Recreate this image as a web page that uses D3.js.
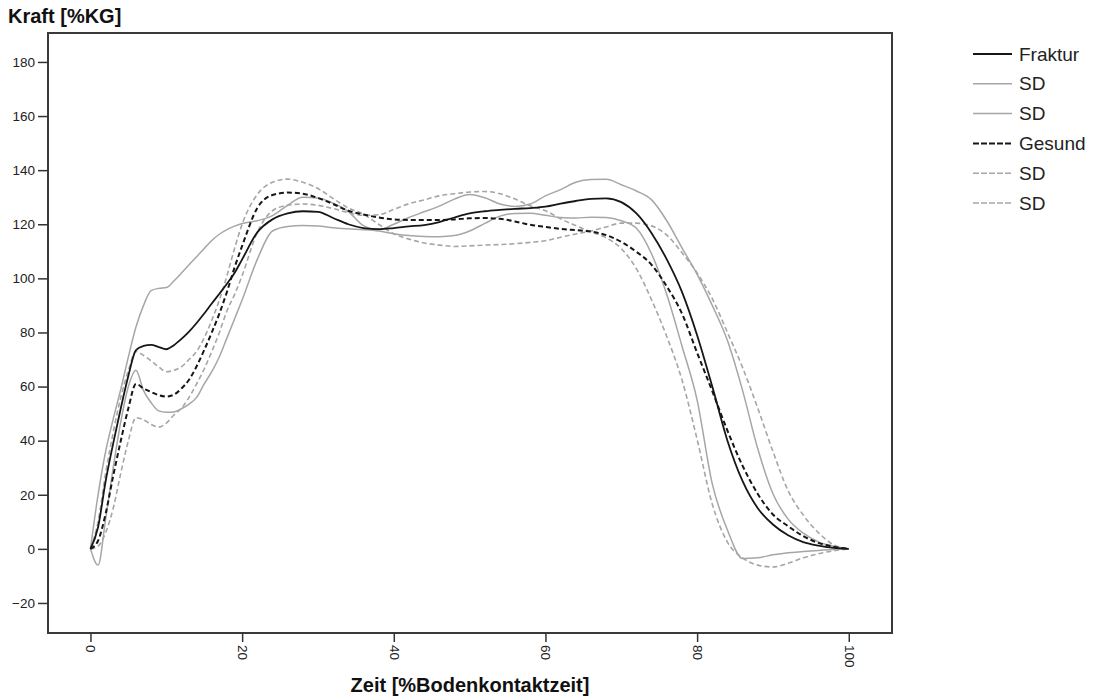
<!DOCTYPE html>
<html>
<head>
<meta charset="utf-8">
<script src="https://cdn.jsdelivr.net/npm/d3@7"></script>
<style>
  html, body { margin: 0; padding: 0; background: #fff; }
  svg { display: block; font-family: "Liberation Sans", Arial, sans-serif; }
</style>
</head>
<body>
<svg id="chart" width="1096" height="698"></svg>
<script>
// Zeitachse in % der Bodenkontaktzeit (1er-Schritte bis 20, danach 2er-Schritte)
const zeit = [0,1,2,3,4,5,6,7,8,9,10,11,12,13,14,15,16,17,18,19,20,
  22,24,26,28,30,32,34,36,38,40,42,44,46,48,50,52,54,56,58,60,
  62,64,66,68,70,72,74,76,78,80,82,84,86,88,90,92,94,96,98,100];

// Kraft [%KG] – Mittelwert Fraktur
const fraktur = [0,8,25,39,52,64,73.5,75,75.4,74.6,73.8,75.3,77.6,80.3,83.5,87,90.7,94.3,98,102,107,
  117,121.8,124,124.8,124.6,122.3,120,118.6,118.2,118.6,
  119.2,119.7,120.8,122.5,124,124.8,125.3,125.7,126,126.5,
  127.6,128.6,129.4,129.6,128.2,124,116.7,107,95,79,
  60,40,25,15,9,5,2.5,1.2,0.4,0];

// Fraktur ± SD
const frakturSdA = [0,20,36,48,59,71,82,90,95.5,96.3,96.6,99,102,105,108,111,114,116.3,118,119.3,120.3,
  121.3,123.2,127,130,129.7,127.8,124.7,119.5,118,120,
  122.5,124.6,126.7,129.3,131,129.8,127.5,126.6,127.5,130.5,
  132.8,135.5,136.5,136.6,134.6,132.3,129,121.3,111.3,101.5,
  90,77,58.5,37,20.4,11,5.8,2.6,1,0];
const frakturSdB = [0,-6,11,30,47,60,66,58.5,54,51,50.5,50.6,51.8,53.5,56,61,65.5,71,78,85,92,
  107,117.5,119.2,119.5,119.4,118.7,118.3,118,117.5,116.5,
  115.8,115.5,115.4,115.8,117.5,120.3,123,124,124.1,123.3,
  122.5,122.3,122.6,122.5,121.3,118.5,109,94,75,55,
  24,7,-3.6,-3.3,-2.2,-1.4,-1,-0.6,-0.2,0];

// Kraft [%KG] – Mittelwert Gesund
const gesund = [0,3,13,27,40,52,61,59.3,58,56.8,56.3,57,59.3,62.5,67.5,73.5,80,87,95,104,112,
  126,130.8,131.7,131.3,129.7,127.5,125,123.6,122.5,121.8,
  121.6,121.6,121.6,121.8,122.2,122.3,122,121,119.8,119,
  118.3,117.8,117.3,116,113.5,109.8,105,97,87,72.5,
  58.3,43.7,30.7,20.3,12.7,8.4,4.7,2.2,0.8,0];

// Gesund ± SD
const gesundSdA = [0,10,28,43,56,66,73,71.5,69.5,67.3,65.5,66,67.3,70,73,78,84.5,92,101,111,120,
  131,135.5,136.7,135.5,133.2,129.5,126,123.7,120,116.5,
  114.5,113.1,112.3,111.8,112,112.3,112.5,112.8,113.3,113.9,
  115.2,116.4,117.5,119,120.4,120.4,119.4,116,109.5,102,
  92.5,80,67,52,36,21.5,12.5,6,1.5,0];
const gesundSdB = [0,1,6,15,28,40,48.5,47.7,46,45,46.5,49.5,52,56,61,66.5,73,80,88,94,101,
  117,125,127,127.5,127,125.8,124.3,123.3,123.5,125.5,
  127.6,129,130.5,131.3,131.9,132.1,131.3,129.3,126.8,125,
  122,119.5,117.2,115,111,103.5,92,78.5,62.5,40.5,
  16.5,2.5,-3.3,-6,-6.7,-5.3,-3.3,-1.8,-0.7,0];

const yTicks = [-20,0,20,40,60,80,100,120,140,160,180];
const xTicks = [0,20,40,60,80,100];
const legendLabels = ["Fraktur","SD","SD","Gesund","SD","SD"];

const GRAY = "#a6a6a6", DARK = "#161616";
const styles = [
  {color: DARK, width: 1.8, dash: null},
  {color: GRAY, width: 1.5, dash: null},
  {color: GRAY, width: 1.5, dash: null},
  {color: DARK, width: 2,   dash: "5,3"},
  {color: GRAY, width: 1.6, dash: "5,3"},
  {color: GRAY, width: 1.6, dash: "5,3"}
];
const seriesValues = [fraktur, frakturSdA, frakturSdB, gesund, gesundSdA, gesundSdB];
const series = seriesValues.map((vals, i) => ({
  label: legendLabels[i],
  style: styles[i],
  points: zeit.map((t, j) => ({t, v: vals[j]}))
}));

const svg = d3.select("#chart");
const plot = {left: 48, top: 33, right: 892, bottom: 633};

const x = d3.scaleLinear().domain([-5.6, 105.7]).range([plot.left, plot.right]);
const y = d3.scaleLinear().domain([-31.1, 190.7]).range([plot.bottom, plot.top]);

// Kurven: graue SD-Linien zuerst, schwarze Mittelwerte darüber
const line = d3.line().x(d => x(d.t)).y(d => y(d.v)).curve(d3.curveMonotoneX);
const drawOrder = [1, 2, 4, 5, 3, 0];
svg.append("g").selectAll("path")
  .data(drawOrder.map(i => series[i]))
  .join("path")
  .attr("d", d => line(d.points))
  .attr("fill", "none")
  .attr("stroke", d => d.style.color)
  .attr("stroke-width", d => d.style.width)
  .attr("stroke-dasharray", d => d.style.dash)
  .attr("stroke-linejoin", "round");

// Rahmen des Diagrammbereichs
svg.append("rect")
  .attr("x", plot.left).attr("y", plot.top)
  .attr("width", plot.right - plot.left).attr("height", plot.bottom - plot.top)
  .attr("fill", "none").attr("stroke", "#3a3a3a").attr("stroke-width", 2);

// Y-Achse
const yAxis = svg.append("g")
  .attr("transform", `translate(${plot.left},0)`)
  .call(d3.axisLeft(y).tickValues(yTicks).tickSize(10).tickPadding(3).tickFormat(d3.format("d")));
yAxis.select(".domain").remove();
yAxis.selectAll(".tick line").attr("stroke", "#333").attr("stroke-width", 1.5);
yAxis.selectAll(".tick text").attr("fill", "#222").style("font-size", "13.5px")
  .style("font-family", "'Liberation Sans', Arial, sans-serif");

// X-Achse mit gedrehten Beschriftungen
const xAxis = svg.append("g")
  .attr("transform", `translate(0,${plot.bottom})`)
  .call(d3.axisBottom(x).tickValues(xTicks).tickSize(9).tickFormat(d3.format("d")));
xAxis.select(".domain").remove();
xAxis.selectAll(".tick line").attr("stroke", "#333").attr("stroke-width", 1.5);
xAxis.selectAll(".tick text")
  .attr("fill", "#222")
  .style("font-size", "13.5px")
  .style("font-family", "'Liberation Sans', Arial, sans-serif")
  .attr("transform", "rotate(90)")
  .attr("x", 12).attr("y", 0).attr("dy", "0.35em")
  .attr("text-anchor", "start");

// Achsentitel
svg.append("text")
  .attr("x", 8).attr("y", 23)
  .attr("font-weight", "bold").attr("font-size", 20).attr("fill", "#111")
  .text("Kraft [%KG]");
svg.append("text")
  .attr("x", 470).attr("y", 692)
  .attr("text-anchor", "middle")
  .attr("font-weight", "bold").attr("font-size", 20).attr("fill", "#111")
  .text("Zeit [%Bodenkontaktzeit]");

// Legende
const legend = svg.append("g").selectAll("g")
  .data(series)
  .join("g")
  .attr("transform", (d, i) => `translate(973,${54 + i * 29.8})`);
legend.append("line")
  .attr("x1", 0).attr("x2", 39).attr("y1", 0).attr("y2", 0)
  .attr("stroke", d => d.style.color)
  .attr("stroke-width", d => d.style.width)
  .attr("stroke-dasharray", d => d.style.dash ? "6,2" : null);
legend.append("text")
  .attr("x", 46).attr("y", 0).attr("dy", "0.35em")
  .attr("font-size", 19).attr("fill", "#222")
  .text(d => d.label);
</script>
</body>
</html>
